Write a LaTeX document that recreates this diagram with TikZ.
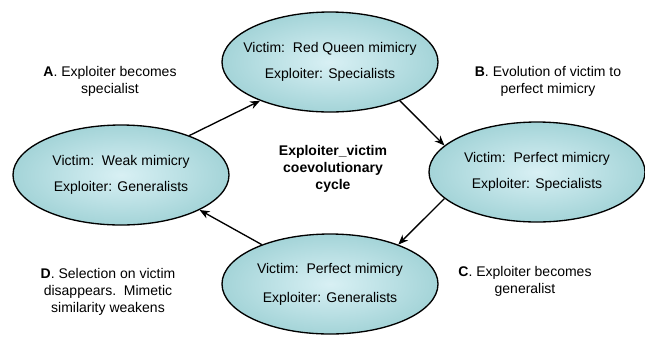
\documentclass[tikz,border=0pt]{standalone}
\usepackage{fontspec}
\setmainfont{Liberation Sans}
\usetikzlibrary{shapes.geometric,arrows.meta}
\definecolor{stagein}{HTML}{D8F0F4}
\definecolor{stageout}{HTML}{A4D4D8}
\tikzset{
	coevo/.style={>={Stealth[length=7.5pt,width=6pt]},shorten >=0pt,shorten <=0pt,
		x=0.75pt,y=-0.75pt,line width=1pt,font=\fontsize{10.5}{12.75}\selectfont},
	stage/.style={ellipse,draw,inner sep=0pt,minimum width=162pt,minimum height=75pt,
		inner color=stagein,outer color=stageout},
	stagetext/.style={align=center},
	steplabel/.style={align=center}
}

\begin{document}
\begin{tikzpicture}[coevo]
	\useasboundingbox (0,0) rectangle (645,337);
	
	\node[stage] (r) at (330,62) {};
	\node[stage] (w) at (121,175) {};
	\node[stage] (s) at (537,172) {};
	\node[stage] (g) at (330,284) {};
	
	\node[stagetext] (rt) at (r) {Victim:~~Red Queen mimicry\\[7pt]Exploiter: Specialists};
	\node[stagetext] (wt) at (w) {Victim:~~Weak mimicry\\[7pt]Exploiter: Generalists};
	\node[stagetext] (st) at (s) {Victim:~~Perfect mimicry\\[7pt]Exploiter: Specialists};
	\node[stagetext] (gt) at (g) {Victim:~~Perfect mimicry\\[9pt]Exploiter: Generalists};
	
	\node[steplabel, font=\fontsize{10.5}{12.75}\selectfont\bfseries] (title) at (333,169) {Exploiter\_victim\\coevolutionary\\cycle};
	
	\node[steplabel] (a) at (110,81) {\textbf{A}. Exploiter becomes\\specialist};
	\node[steplabel] (b) at (548,81) {\textbf{B}. Evolution of victim to\\perfect mimicry};
	\node[steplabel] (c) at (525,281) {\textbf{C}. Exploiter becomes\\generalist};
	\node[steplabel] (d) at (108,292) {\textbf{D}. Selection on victim\\disappears.~~Mimetic\\similarity weakens};
	
	\path[->] (w.30) edge (r.209);
	\path[->] (r.-29) edge (s.164);
	\path[->] (s.196) edge (g.30);
	\path[->] (g.150) edge (w.-24);
\end{tikzpicture}
\end{document}
